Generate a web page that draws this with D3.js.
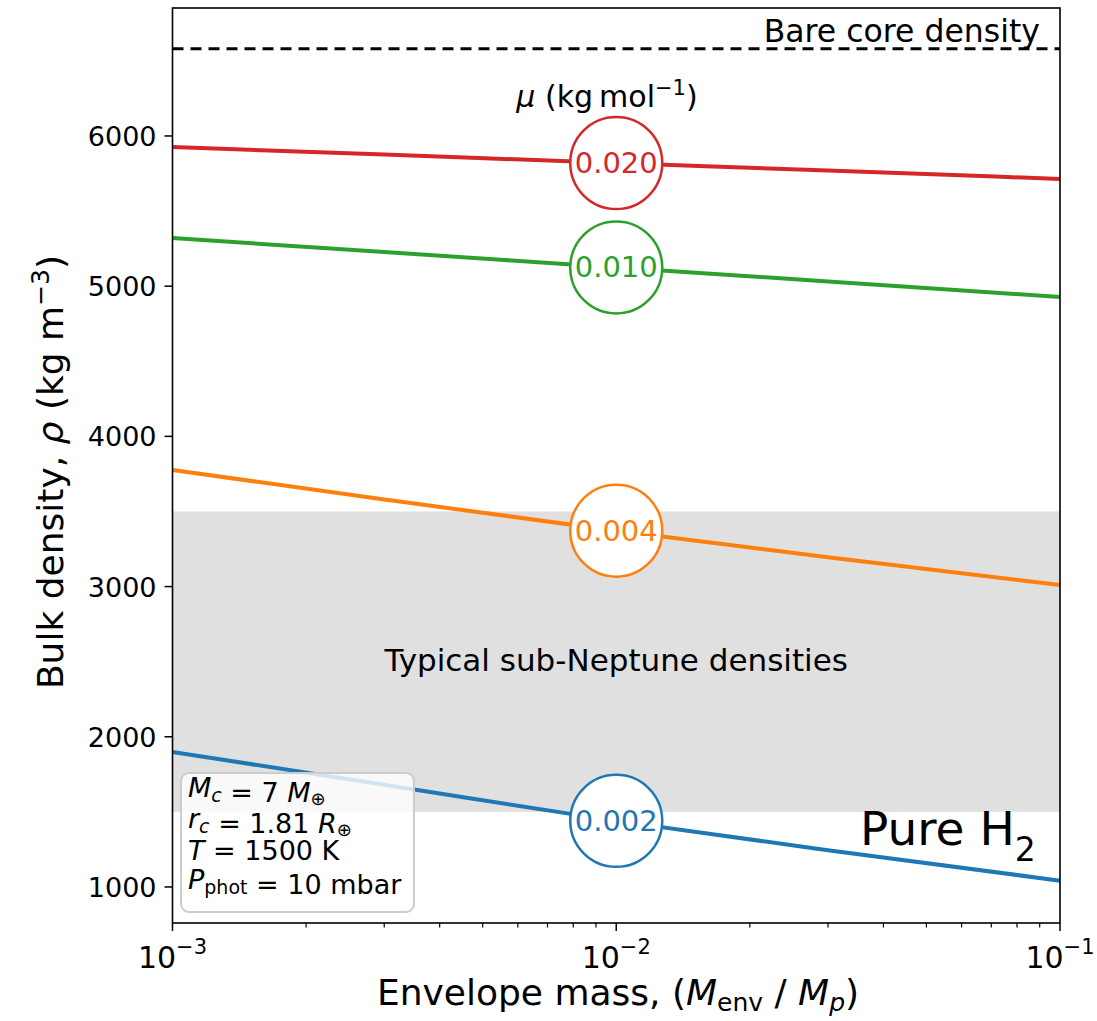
<!DOCTYPE html>
<html>
<head>
<meta charset="utf-8">
<script src="https://cdn.jsdelivr.net/npm/d3@7"></script>
<style>
  body { margin: 0; background: #fff; }
  text { font-family: "DejaVu Sans", sans-serif; }
</style>
</head>
<body>
<svg id="chart" width="1097" height="1021"></svg>
<script>
// envelope mass fractions sampled
const massFrac = [0.001, 0.003, 0.01, 0.03, 0.1]

// mean molecular weights (kg/mol) and bulk densities (kg m^-3)
const muLabels = ['0.020', '0.010', '0.004', '0.002']
const muColors = ['#d62728', '#2ca02c', '#ff7f0e', '#1f77b4']
const rho020 = [5927, 5876, 5820, 5770, 5714]
const rho010 = [5321, 5227, 5125, 5031, 4928]
const rho004 = [3776, 3580, 3372, 3195, 3011]
const rho002 = [1899, 1680, 1440, 1245, 1042]
const allRho = [rho020, rho010, rho004, rho002]

const bareCore = 6580
const subNeptune = [1500, 3500]
const yTicks = [1000, 2000, 3000, 4000, 5000, 6000]
const xTicks = [0.001, 0.01, 0.1]
const xTickExp = ['\u22123', '\u22122', '\u22121']

const svg = d3.select('#chart')
const mLeft = 172.5, mRight = 1060, mTop = 8, mBottom = 923

const x = d3.scaleLog().domain([0.001, 0.1]).range([mLeft, mRight])
const y = d3.scaleLinear().domain([760, 6852]).range([mBottom, mTop])

const plot = svg.append('g')

// shaded band of typical sub-Neptunes
plot.append('rect')
    .attr('x', mLeft).attr('width', mRight - mLeft)
    .attr('y', y(subNeptune[1]))
    .attr('height', y(subNeptune[0]) - y(subNeptune[1]))
    .attr('fill', '#e0e0e0')

plot.append('text')
    .attr('x', x(0.01)).attr('y', 671)
    .attr('text-anchor', 'middle')
    .attr('font-size', 31)
    .text('Typical sub-Neptune densities')

// bare core line
plot.append('line')
    .attr('x1', mLeft).attr('x2', mRight)
    .attr('y1', y(bareCore)).attr('y2', y(bareCore))
    .attr('stroke', '#000').attr('stroke-width', 3)
    .attr('stroke-dasharray', '11,7')

plot.append('text')
    .attr('x', mRight - 20).attr('y', 42)
    .attr('text-anchor', 'end')
    .attr('font-size', 31.5)
    .text('Bare core density')

// curves
const line = d3.line().x((d, i) => x(massFrac[i])).y(d => y(d)).curve(d3.curveMonotoneX)

allRho.forEach((rho, k) => {
    plot.append('path')
        .attr('d', line(rho))
        .attr('fill', 'none')
        .attr('stroke', muColors[k])
        .attr('stroke-width', 4)
})

// inline labels
allRho.forEach((rho, k) => {
    const cy = y(rho[2])
    plot.append('circle')
        .attr('cx', x(0.01)).attr('cy', cy).attr('r', 46)
        .attr('fill', '#fff')
        .attr('stroke', muColors[k]).attr('stroke-width', 2.5)
    plot.append('text')
        .attr('x', x(0.01)).attr('y', cy + 10)
        .attr('text-anchor', 'middle')
        .attr('font-size', 29)
        .attr('fill', muColors[k])
        .text(muLabels[k])
})

const muT = plot.append('text')
    .attr('x', 607).attr('y', 107)
    .attr('text-anchor', 'middle')
    .attr('font-size', 30)
muT.append('tspan').attr('font-style', 'italic').text('\u03bc')
muT.append('tspan').text(' (kg\u2009mol')
muT.append('tspan').attr('dy', -12).attr('font-size', 21).text('\u22121')
muT.append('tspan').attr('dy', 12).text(')')

// Pure H2
const h2 = plot.append('text')
    .attr('x', 860).attr('y', 845)
    .attr('font-size', 47)
    .attr('font-family', 'Liberation Sans, Arial, sans-serif')
h2.append('tspan').text('Pure H')
h2.append('tspan').attr('dy', 16).attr('font-size', 33).text('2')

// parameter box
const box = svg.append('g')
box.append('rect')
    .attr('x', 181).attr('y', 773).attr('width', 233).attr('height', 139)
    .attr('rx', 8)
    .attr('fill', 'rgba(255,255,255,0.8)')
    .attr('stroke', '#cccccc').attr('stroke-width', 2)

const boxLines = [
    [['M', 'i'], ['c', 'subi'], [' = 7 ', ''], ['M', 'i'], ['\u2295', 'sub']],
    [['r', 'i'], ['c', 'subi'], [' = 1.81 ', ''], ['R', 'i'], ['\u2295', 'sub']],
    [['T', 'i'], [' = 1500 K', '']],
    [['P', 'i'], ['phot', 'sub'], [' = 10 mbar', '']]
]
const boxBase = [797, 828, 860, 889]
boxLines.forEach((parts, i) => {
    const t = box.append('text')
        .attr('x', 188).attr('y', boxBase[i])
        .attr('font-size', 27)
        .attr('xml:space', 'preserve')
    parts.forEach(p => {
        const s = t.append('tspan').text(p[0])
        if (p[1] === 'i') s.attr('font-style', 'italic')
        if (p[1].startsWith('sub')) {
            const dy = p[0] === '\u2295' ? 3 : 5
            s.attr('dy', dy).attr('font-size', p[0] === '\u2295' ? 18 : 19)
            if (p[1] === 'subi') s.attr('font-style', 'italic')
            t.append('tspan').attr('dy', -dy).text('')
        }
    })
})

// frame
svg.append('rect')
    .attr('x', mLeft).attr('y', mTop)
    .attr('width', mRight - mLeft).attr('height', mBottom - mTop)
    .attr('fill', 'none').attr('stroke', '#000').attr('stroke-width', 1.6)

// x axis (log)
const xAxis = svg.append('g').attr('transform', `translate(0,${mBottom})`)
const minor = []
for (const dec of [0.001, 0.01]) for (let m = 2; m <= 9; m++) minor.push(dec * m)
xAxis.selectAll('.minor').data(minor).join('line')
    .attr('x1', d => x(d)).attr('x2', d => x(d))
    .attr('y1', 0).attr('y2', 4.5)
    .attr('stroke', '#000').attr('stroke-width', 1.2)
xAxis.selectAll('.major').data(xTicks).join('line')
    .attr('x1', d => x(d)).attr('x2', d => x(d))
    .attr('y1', 0).attr('y2', 8)
    .attr('stroke', '#000').attr('stroke-width', 1.5)
xTicks.forEach((d, i) => {
    const t = xAxis.append('text')
        .attr('x', x(d)).attr('y', 45)
        .attr('text-anchor', 'middle')
        .attr('font-size', 30)
    t.append('tspan').text('10')
    t.append('tspan').attr('dy', -14).attr('font-size', 21).text(xTickExp[i])
})

// y axis
const yAxis = svg.append('g')
yAxis.selectAll('line').data(yTicks).join('line')
    .attr('x1', mLeft - 8).attr('x2', mLeft)
    .attr('y1', d => y(d)).attr('y2', d => y(d))
    .attr('stroke', '#000').attr('stroke-width', 1.5)
yAxis.selectAll('text').data(yTicks).join('text')
    .attr('x', mLeft - 16).attr('y', d => y(d) + 10)
    .attr('text-anchor', 'end')
    .attr('font-size', 27)
    .text(d => d)

// axis titles
const xt = svg.append('text')
    .attr('x', 618).attr('y', 1005)
    .attr('text-anchor', 'middle')
    .attr('font-size', 36)
xt.append('tspan').text('Envelope mass, (')
xt.append('tspan').attr('font-style', 'italic').text('M')
xt.append('tspan').attr('dy', 6).attr('font-size', 25).text('env')
xt.append('tspan').attr('dy', -6).text(' / ')
xt.append('tspan').attr('font-style', 'italic').text('M')
xt.append('tspan').attr('dy', 6).attr('font-size', 25).attr('font-style', 'italic').text('p')
xt.append('tspan').attr('dy', -6).text(')')

const yt = svg.append('text')
    .attr('transform', 'translate(63,472) rotate(-90)')
    .attr('text-anchor', 'middle')
    .attr('font-size', 36)
yt.append('tspan').text('Bulk density, ')
yt.append('tspan').attr('font-style', 'italic').text('\u03c1')
yt.append('tspan').text(' (kg m')
yt.append('tspan').attr('dy', -14).attr('font-size', 25).text('\u22123')
yt.append('tspan').attr('dy', 14).text(')')
</script>
</body>
</html>
